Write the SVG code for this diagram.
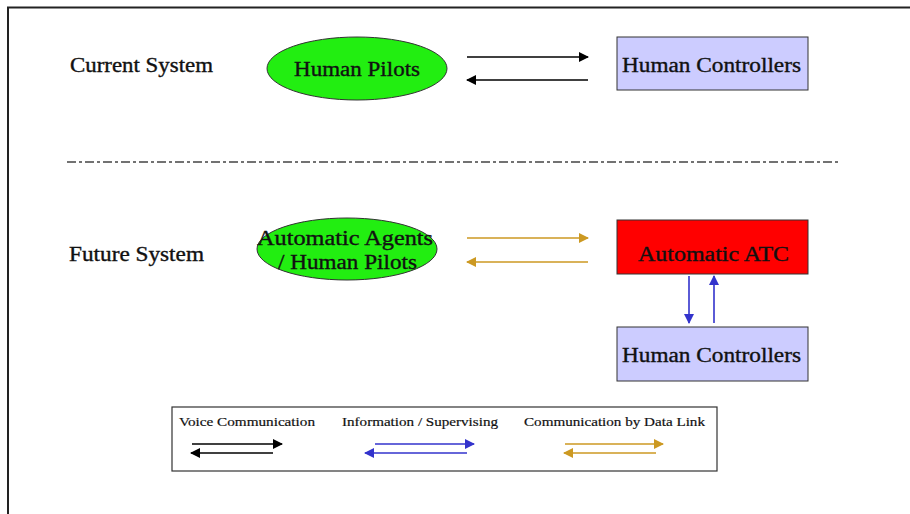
<svg xmlns="http://www.w3.org/2000/svg" width="910" height="514" viewBox="0 0 910 514">
<defs>
<style>
text{font-family:"Liberation Serif","Times New Roman",serif;fill:#111;stroke:#111;stroke-width:0.35;}
.lbl{font-size:20px;}
.node{font-size:20px;}
.leg{font-size:13px;stroke-width:0.2;}
.k{stroke:#000;stroke-width:1.6;fill:none;}
.b{stroke:#3333cc;stroke-width:1.6;fill:none;}
.g{stroke:#cc9922;stroke-width:1.6;fill:none;}
</style>
<marker id="ak" viewBox="0 0 10 10" refX="9" refY="5" markerWidth="11" markerHeight="10" markerUnits="userSpaceOnUse" orient="auto"><path d="M0,0L10,5L0,10z" fill="#000"/></marker>
<marker id="ab" viewBox="0 0 10 10" refX="9" refY="5" markerWidth="11" markerHeight="10" markerUnits="userSpaceOnUse" orient="auto"><path d="M0,0L10,5L0,10z" fill="#3333cc"/></marker>
<marker id="ag" viewBox="0 0 10 10" refX="9" refY="5" markerWidth="11" markerHeight="10" markerUnits="userSpaceOnUse" orient="auto"><path d="M0,0L10,5L0,10z" fill="#cc9922"/></marker>
</defs>
<rect width="910" height="514" fill="#fff"/>
<path d="M8,514V7.5H910" stroke="#222" stroke-width="2" fill="none"/>
<text class="lbl" x="70" y="72" textLength="143" lengthAdjust="spacingAndGlyphs">Current System</text>
<text class="lbl" x="69" y="261" textLength="135" lengthAdjust="spacingAndGlyphs">Future System</text>
<line x1="67" y1="162" x2="838" y2="162" stroke="#444" stroke-width="1.5" stroke-dasharray="9,3,3,3"/>
<g id="pilots">
<ellipse cx="357" cy="68.5" rx="90" ry="31.5" fill="#22ee11" stroke="#333" stroke-width="1"/>
<text class="node" x="294" y="76" textLength="126" lengthAdjust="spacingAndGlyphs">Human Pilots</text>
</g>
<g id="controllers1">
<rect x="617" y="37" width="191" height="53" fill="#ccccff" stroke="#333" stroke-width="1"/>
<text class="node" x="622" y="72" textLength="179" lengthAdjust="spacingAndGlyphs">Human Controllers</text>
</g>
<g id="agents">
<ellipse cx="347" cy="249" rx="90" ry="31" fill="#22ee11" stroke="#333" stroke-width="1"/>
<text class="node" x="257" y="245" textLength="176" lengthAdjust="spacingAndGlyphs">Automatic Agents</text>
<text class="node" x="278" y="269" textLength="139" lengthAdjust="spacingAndGlyphs">/ Human Pilots</text>
</g>
<g id="atc">
<rect x="617" y="220" width="191" height="54" fill="#ff0000" stroke="#333" stroke-width="1"/>
<text class="node" x="638" y="261" textLength="151" lengthAdjust="spacingAndGlyphs">Automatic ATC</text>
</g>
<g id="controllers2">
<rect x="617" y="327" width="191" height="54" fill="#ccccff" stroke="#333" stroke-width="1"/>
<text class="node" x="622" y="362" textLength="179" lengthAdjust="spacingAndGlyphs">Human Controllers</text>
</g>
<g id="connectors">
<line class="k" x1="467" y1="57" x2="588" y2="57" marker-end="url(#ak)"/>
<line class="k" x1="588" y1="80" x2="467" y2="80" marker-end="url(#ak)"/>
<line class="g" x1="467" y1="238" x2="588" y2="238" marker-end="url(#ag)"/>
<line class="g" x1="588" y1="262" x2="467" y2="262" marker-end="url(#ag)"/>
<line class="b" x1="689" y1="276" x2="689" y2="323" marker-end="url(#ab)"/>
<line class="b" x1="714" y1="323" x2="714" y2="276" marker-end="url(#ab)"/>
</g>
<g id="legend">
<rect x="172" y="407" width="545" height="64" fill="#fff" stroke="#333" stroke-width="1.2"/>
<text class="leg" x="179" y="426" textLength="136" lengthAdjust="spacingAndGlyphs">Voice Communication</text>
<text class="leg" x="342" y="426" textLength="156" lengthAdjust="spacingAndGlyphs">Information / Supervising</text>
<text class="leg" x="524" y="426" textLength="181" lengthAdjust="spacingAndGlyphs">Communication by Data Link</text>
<line class="k" x1="192" y1="444" x2="282" y2="444" marker-end="url(#ak)"/>
<line class="k" x1="273" y1="453" x2="191" y2="453" marker-end="url(#ak)"/>
<line class="b" x1="375" y1="444" x2="474" y2="444" marker-end="url(#ab)"/>
<line class="b" x1="467" y1="453" x2="365" y2="453" marker-end="url(#ab)"/>
<line class="g" x1="565" y1="444" x2="663" y2="444" marker-end="url(#ag)"/>
<line class="g" x1="656" y1="453" x2="564" y2="453" marker-end="url(#ag)"/>
</g>
</svg>
